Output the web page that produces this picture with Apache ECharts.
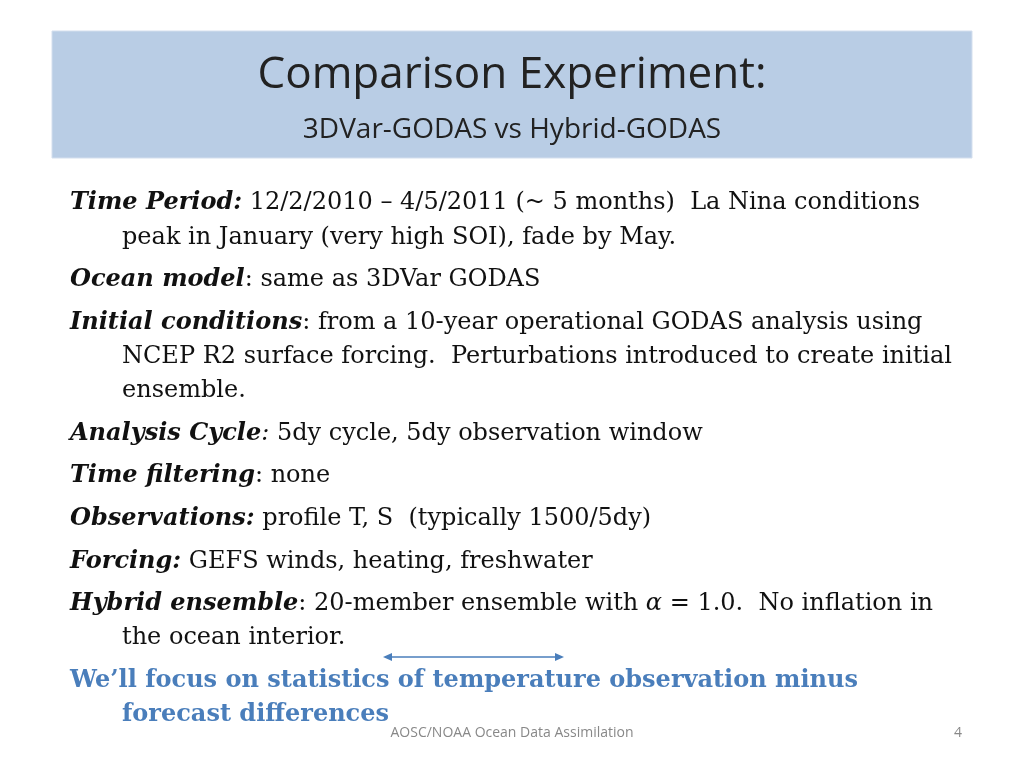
<!DOCTYPE html>
<html>
<head>
<meta charset="utf-8">
<script src="https://cdn.jsdelivr.net/npm/echarts@6/dist/echarts.min.js"></script>
<style>html,body{margin:0;padding:0;background:#fff}#main{width:1024px;height:768px}</style>
</head>
<body>
<div id="main"></div>
<script>
var titleText = 'Comparison Experiment:';
var subtitleText = '3DVar-GODAS vs Hybrid-GODAS';
// each line: [indent, rich text]
var bodyLines = [
  [0, '{b|Time Period:} 12/2/2010 – 4/5/2011 (~ 5 months)  La Nina conditions'],
  [1, 'peak in January (very high SOI), fade by May.'],
  [0, '{b|Ocean model}: same as 3DVar GODAS'],
  [0, '{b|Initial conditions}: from a 10-year operational GODAS analysis using'],
  [1, 'NCEP R2 surface forcing.  Perturbations introduced to create initial'],
  [1, 'ensemble.'],
  [0, '{b|Analysis Cycle}{i|:} 5dy cycle, 5dy observation window'],
  [0, '{b|Time filtering}: none'],
  [0, '{b|Observations:} profile T, S  (typically 1500/5dy)'],
  [0, '{b|Forcing:} GEFS winds, heating, freshwater'],
  [0, '{b|Hybrid ensemble}: 20-member ensemble with {i|α} = 1.0.  No inflation in'],
  [1, 'the ocean interior.'],
  [0, '{h|We’ll focus on statistics of temperature observation minus}'],
  [1, '{h|forecast differences}']
];
var lineY = [203, 238, 280, 323, 357, 391, 434, 476, 519, 562, 604, 638, 681, 715];
var footerText = 'AOSC/NOAA Ocean Data Assimilation';
var pageNum = '4';

var chart = echarts.init(document.getElementById('main'));
var serif = '"DejaVu Serif", "Liberation Serif", serif';
var graphics = [
  { type: 'rect', shape: { x: 52, y: 31, width: 920, height: 127 },
    style: { fill: '#b9cde5', stroke: '#d4dfee', lineWidth: 1 } },
  { type: 'text', x: 512, y: 75, style: { text: titleText, font: '44px "Open Sans", sans-serif',
    fill: '#222', align: 'center', verticalAlign: 'middle' } },
  { type: 'text', x: 512, y: 130, style: { text: subtitleText, font: '28px "Open Sans", sans-serif',
    fill: '#222', align: 'center', verticalAlign: 'middle' } }
];
bodyLines.forEach(function (ln, i) {
  graphics.push({
    type: 'text', x: ln[0] ? 122 : 70, y: lineY[i],
    style: {
      text: ln[1], fontFamily: serif, fontSize: 24, fill: '#111', verticalAlign: 'middle',
      rich: {
        b: { fontFamily: serif, fontSize: 24, fontWeight: 'bold', fontStyle: 'italic', fill: '#111' },
        i: { fontFamily: serif, fontSize: 24, fontStyle: 'italic', fill: '#111' },
        h: { fontFamily: serif, fontSize: 24, fontWeight: 'bold', fill: '#4a7ebb' }
      }
    }
  });
});
graphics.push(
  { type: 'line', shape: { x1: 386, y1: 657, x2: 560, y2: 657 }, style: { stroke: '#4a7ebb', lineWidth: 1.5 } },
  { type: 'polygon', shape: { points: [[383, 657], [392, 653], [392, 661]] }, style: { fill: '#4a7ebb' } },
  { type: 'polygon', shape: { points: [[564, 657], [555, 653], [555, 661]] }, style: { fill: '#4a7ebb' } },
  { type: 'text', x: 512, y: 733, style: { text: footerText, font: '14px "Open Sans", sans-serif',
    fill: '#888', align: 'center', verticalAlign: 'middle' } },
  { type: 'text', x: 958, y: 733, style: { text: pageNum, font: '14px "Open Sans", sans-serif',
    fill: '#888', align: 'center', verticalAlign: 'middle' } }
);
chart.setOption({ animation: false, graphic: graphics });
</script>
</body>
</html>
